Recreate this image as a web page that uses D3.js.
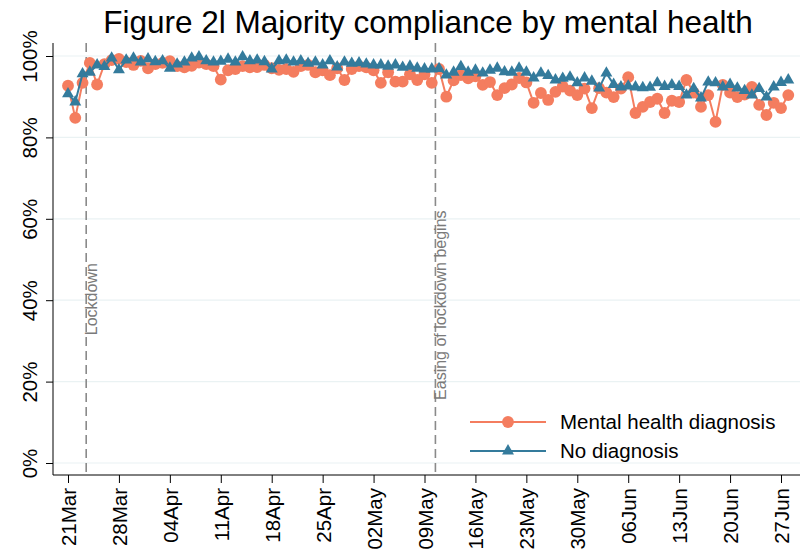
<!DOCTYPE html>
<html>
<head>
<meta charset="utf-8">
<script src="https://cdn.jsdelivr.net/npm/d3@7"></script>
<style>
  body { margin: 0; background: #fff; }
  text { font-family: "Liberation Sans", Arial, sans-serif; }
</style>
</head>
<body>
<script>
const W = 809, H = 555;

// daily values from 21 Mar 2020
const startDate = Date.UTC(2020, 2, 21);
const mentalHealth = [
  92.7, 84.8, 93.4, 98.3, 93.0, 98.0, 99.0, 99.3, 98.5, 97.8,
  98.8, 97.0, 98.0, 98.3, 98.7, 97.5, 97.2, 97.6, 98.4, 98.0,
  97.5, 94.2, 96.5, 96.8, 97.5, 97.2, 97.3, 97.8, 97.0, 96.6,
  96.8, 96.1, 97.5, 97.8, 96.0, 96.5, 95.3, 97.0, 94.1, 96.8,
  97.5, 97.2, 96.5, 93.4, 96.0, 93.7, 93.7, 95.5, 94.1, 95.5,
  93.4, 96.8, 90.0, 94.0, 95.3, 94.5, 95.0, 92.9, 93.6, 90.4,
  92.1, 93.0, 94.6, 93.5, 88.5, 90.9, 89.2, 91.2, 92.5, 91.5,
  90.4, 92.0, 87.2, 92.1, 91.0, 89.9, 92.0, 94.8, 86.0, 87.5,
  88.7, 89.5, 86.0, 89.0, 88.7, 94.1, 91.0, 87.5, 90.4, 83.8,
  92.9, 91.0, 89.9, 90.5, 92.4, 88.0, 85.5, 88.5, 87.2, 90.4
];
const noDiagnosis = [
  90.7, 88.7, 95.6, 96.0, 97.8, 97.4, 99.5, 96.6, 99.0, 99.5,
  98.5, 99.3, 98.6, 98.8, 97.0, 98.0, 98.5, 99.5, 99.8, 98.8,
  98.5, 98.7, 99.2, 98.5, 99.8, 98.8, 99.0, 98.6, 96.8, 98.8,
  99.0, 98.5, 98.8, 98.2, 98.5, 97.8, 98.8, 97.3, 98.5, 98.2,
  98.3, 98.0, 97.8, 97.8, 97.5, 97.8, 97.2, 97.5, 97.0, 96.8,
  96.8, 96.9, 95.3, 96.0, 97.4, 96.0, 96.5, 95.8, 96.5, 97.0,
  96.1, 96.0, 97.0, 96.0, 94.6, 95.8, 95.2, 94.1, 94.5, 94.8,
  93.4, 94.6, 93.8, 92.1, 95.8, 93.0, 92.4, 92.6, 92.4, 92.2,
  92.3, 93.4, 92.5, 92.9, 92.5, 90.4, 92.0, 89.7, 93.6, 93.4,
  92.4, 93.0, 92.1, 91.5, 90.4, 92.0, 89.9, 92.4, 93.5, 94.1
];
const seriesNames = ["Mental health diagnosis", "No diagnosis"];
const yTicks = [0, 20, 40, 60, 80, 100];
const xTickDates = ["2020-03-21", "2020-03-28", "2020-04-04", "2020-04-11", "2020-04-18",
  "2020-04-25", "2020-05-02", "2020-05-09", "2020-05-16", "2020-05-23", "2020-05-30",
  "2020-06-06", "2020-06-13", "2020-06-20", "2020-06-27"];
// events marked with dashed lines (evening of the day)
const events = [
  { date: "2020-03-23T12:00Z", label: "Lockdown", labelAt: 31.4 },
  { date: "2020-05-10T12:00Z", label: "Easing of lockdown begins", labelAt: 15.5 }
];

const orange = "#f47d5f";
const blue = "#347b9c";

const svg = d3.select("body").append("svg")
  .attr("width", W)
  .attr("height", H);

const x = d3.scaleUtc()
  .domain([new Date("2020-03-21"), new Date("2020-06-27")])
  .range([68, 781]);
const y = d3.scaleLinear()
  .domain([0, 100])
  .range([463, 56]);

const plotTop = 43, plotBottom = 475, plotLeft = 53, plotRight = 800;

// title
svg.append("text")
  .attr("x", 428)
  .attr("y", 33)
  .attr("text-anchor", "middle")
  .style("font-size", "31.5px")
  .attr("fill", "#000")
  .text("Figure 2l Majority compliance by mental health");

// gridlines
svg.selectAll(".grid")
  .data(yTicks)
  .enter().append("line")
  .attr("x1", plotLeft)
  .attr("x2", plotRight)
  .attr("y1", (d) => y(d))
  .attr("y2", (d) => y(d))
  .attr("stroke", "#eaf2f3")
  .attr("stroke-width", 1.2);

// y axis
const yAxis = svg.append("g")
  .attr("transform", `translate(${plotLeft},0)`)
  .call(d3.axisLeft(y).tickValues(yTicks).tickSize(7).tickFormat((d) => d + "%"));
yAxis.select(".domain").attr("d", `M0,${plotTop}V${plotBottom}`).attr("stroke", "#000");
yAxis.selectAll(".tick line").attr("stroke", "#000");
yAxis.selectAll(".tick text")
  .attr("x", null).attr("dy", null)
  .attr("transform", "translate(-16,0) rotate(-90)")
  .attr("text-anchor", "middle")
  .style("font-size", "20.5px")
  .attr("fill", "#000");

// x axis
const xAxis = svg.append("g")
  .attr("transform", `translate(0,${plotBottom})`)
  .call(d3.axisBottom(x)
    .tickValues(xTickDates.map((s) => new Date(s)))
    .tickSize(8)
    .tickFormat(d3.utcFormat("%d%b")));
xAxis.select(".domain").attr("d", `M${plotLeft},0H${plotRight}`).attr("stroke", "#000");
xAxis.selectAll(".tick line").attr("stroke", "#000");
xAxis.selectAll(".tick text")
  .attr("y", null).attr("dy", null)
  .attr("transform", "translate(7.5,13) rotate(-90)")
  .attr("text-anchor", "end")
  .style("font-size", "20.5px")
  .attr("fill", "#000");

// event lines
events.forEach((e) => {
  const ex = x(new Date(e.date));
  svg.append("line")
    .attr("x1", ex).attr("x2", ex)
    .attr("y1", plotTop).attr("y2", plotBottom)
    .attr("stroke", "#8a8a8a")
    .attr("stroke-width", 1.6)
    .attr("stroke-dasharray", "9,5");
  svg.append("text")
    .attr("transform", `translate(${ex + 10.5},${y(e.labelAt)}) rotate(-90)`)
    .style("font-size", "16px")
    .attr("fill", "#7a7a7a")
    .text(e.label);
});

const dayDate = (i) => new Date(startDate + i * 864e5);

function drawSeries(values, color, shape) {
  const line = d3.line()
    .x((d, i) => x(dayDate(i)))
    .y((d) => y(d));
  svg.append("path")
    .datum(values)
    .attr("fill", "none")
    .attr("stroke", color)
    .attr("stroke-width", 2)
    .attr("d", line);
  const sym = d3.symbol().type(shape).size(shape === d3.symbolCircle ? 110 : 62);
  svg.append("g").selectAll("path")
    .data(values)
    .enter().append("path")
    .attr("transform", (d, i) => `translate(${x(dayDate(i))},${y(d)})`)
    .attr("d", sym)
    .attr("fill", color);
}

drawSeries(mentalHealth, orange, d3.symbolCircle);
drawSeries(noDiagnosis, blue, d3.symbolTriangle);

// legend
const legend = svg.append("g");
const legendItems = [
  { name: seriesNames[0], color: orange, shape: d3.symbolCircle, size: 110 },
  { name: seriesNames[1], color: blue, shape: d3.symbolTriangle, size: 62 }
];
legendItems.forEach((it, i) => {
  const ly = 422 + i * 29;
  legend.append("line")
    .attr("x1", 470).attr("x2", 546)
    .attr("y1", ly).attr("y2", ly)
    .attr("stroke", it.color)
    .attr("stroke-width", 2);
  legend.append("path")
    .attr("transform", `translate(508,${ly})`)
    .attr("d", d3.symbol().type(it.shape).size(it.size))
    .attr("fill", it.color);
  legend.append("text")
    .attr("x", 560)
    .attr("y", ly + 7)
    .style("font-size", "20.5px")
    .attr("fill", "#000")
    .text(it.name);
});
</script>
</body>
</html>
